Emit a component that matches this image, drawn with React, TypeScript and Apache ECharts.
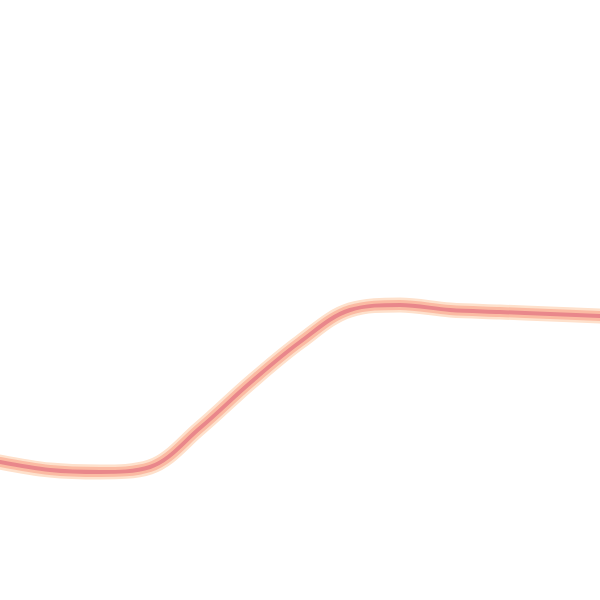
import React, { useEffect, useRef } from "react";
import * as echarts from "echarts";

// x positions (arbitrary steps) and the curve's values
const steps = ["0", "1", "2", "3", "4", "5", "6", "7", "8", "9", "10", "11", "12"];
const values = [138, 130, 128, 133, 172, 217, 258, 290, 295, 290, 288, 286, 284];

const App = () => {
  const chartRef = useRef<HTMLDivElement | null>(null);

  useEffect(() => {
    document.body.style.margin = "0";
    if (!chartRef.current) return;
    const myChart = echarts.init(chartRef.current, undefined, { renderer: "svg" });

    const layer = (width: number, color: string, z: number) => ({
      type: "line",
      data: values,
      smooth: 0.35,
      showSymbol: false,
      symbol: "none",
      z,
      lineStyle: { width, color, cap: "round", join: "round" },
    });

    myChart.setOption({
      animation: false,
      grid: { left: 0, right: 0, top: 0, bottom: 0 },
      xAxis: { type: "category", data: steps, boundaryGap: false, show: false },
      yAxis: { type: "value", min: 0, max: 600, show: false },
      series: [
        layer(15, "#fee1cc", 1),
        layer(10, "#fbbba3", 2),
        layer(4, "#e9878b", 3),
      ],
    });

    return () => {
      myChart.dispose();
    };
  }, []);

  return <div ref={chartRef} style={{ width: "600px", height: "600px" }}></div>;
};

export default App;
